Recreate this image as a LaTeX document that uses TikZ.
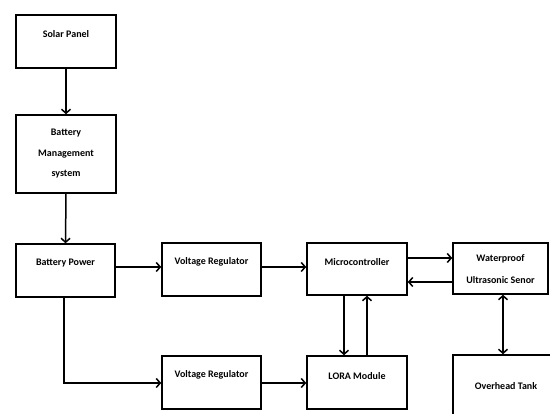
\documentclass[tikz,border=0pt]{standalone}
\usepackage{fontspec}
\setmainfont{Carlito}
\usetikzlibrary{arrows.meta}
\tikzset{
  box/.style={draw, line width=1.5pt, inner sep=0pt},
  lbl/.style={font=\bfseries\fontsize{10}{20.5}\selectfont, align=center, inner sep=0pt},
  conn/.style={line width=1.5pt, -{Straight Barb[length=4pt,width=9pt,line width=1.5pt]}},
  biconn/.style={line width=1.5pt, {Straight Barb[length=4pt,width=9pt,line width=1.5pt]}-{Straight Barb[length=4pt,width=9pt,line width=1.5pt]}},
}
\begin{document}
\begin{tikzpicture}[x=1pt,y=-1pt]
\clip (0,0) rectangle (550,414);
\fill[white] (0,0) rectangle (550,414);
% boxes
\node[box, minimum width=100pt, minimum height=53pt] (solar) at (66,41.5) {};
\node[box, minimum width=100pt, minimum height=78pt] (bms) at (66,154) {};
\node[box, minimum width=99pt, minimum height=53pt] (bp) at (65.5,270.5) {};
\node[box, minimum width=99pt, minimum height=53pt] (vr1) at (211.5,269.5) {};
\node[box, minimum width=99pt, minimum height=53pt] (vr2) at (211.5,382.5) {};
\node[box, minimum width=100pt, minimum height=52pt] (mc) at (357,269) {};
\node[box, minimum width=95pt, minimum height=51pt] (wus) at (500.5,268.5) {};
\node[box, minimum width=100pt, minimum height=53pt] (lora) at (357,382.5) {};
\node[box, minimum width=107pt, minimum height=70pt] (tank) at (506.5,390) {};
% labels
\node[lbl] (tsolar) at (66,34) {Solar Panel};
\node[lbl] (tbms) at (66,154) {Battery\\Management\\system};
\node[lbl] (tbp) at (65.5,263) {Battery Power};
\node[lbl] (tvr1) at (211.5,262) {Voltage Regulator};
\node[lbl] (tvr2) at (211.5,375) {Voltage Regulator};
\node[lbl] (tmc) at (357,262) {Microcontroller};
\node[lbl, font=\bfseries\fontsize{10}{22}\selectfont] (twus) at (500.5,269) {Waterproof\\Ultrasonic Senor};
\node[lbl] (tlora) at (357,376) {LORA Module};
\node[lbl] (ttank) at (506,386) {Overhead Tank};
% connectors
\draw[conn] (solar.south) -- (bms.north);
\draw[conn] (bms.south) -- (bp.north);
\draw[conn] (bp.east |- 0,267) -- (vr1.west |- 0,267);
\draw[conn] (bp.south -| 64,0) |- (vr2.west |- 0,383);
\draw[conn] (vr1.east |- 0,267) -- (mc.west |- 0,267);
\draw[conn] (vr2.east |- 0,383) -- (lora.west |- 0,383);
\draw[conn] (mc.east |- 0,258) -- (wus.west |- 0,258);
\draw[conn] (wus.west |- 0,282) -- (mc.east |- 0,282);
\draw[conn] (mc.south -| 344,0) -- (lora.north -| 344,0);
\draw[conn] (lora.north -| 367,0) -- (mc.south -| 367,0);
\draw[biconn] (wus.south -| 503,0) -- (tank.north -| 503,0);
\end{tikzpicture}
\end{document}
